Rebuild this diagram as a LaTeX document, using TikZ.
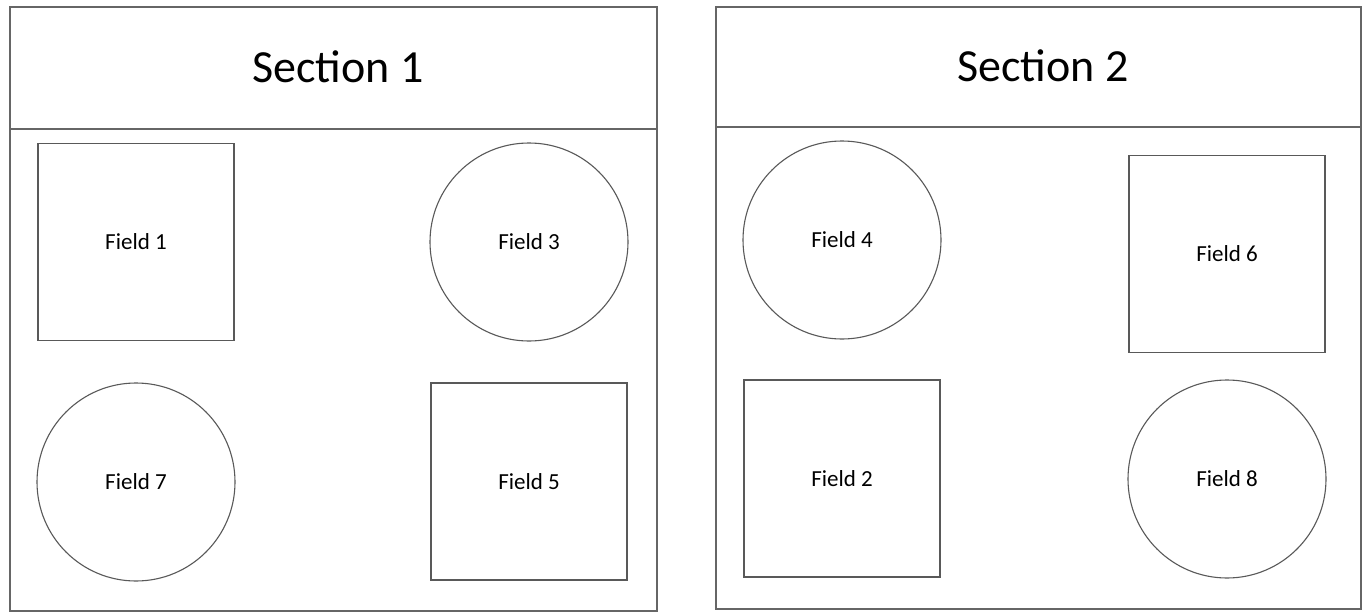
\documentclass[tikz,border=0pt]{standalone}
\usepackage{fontspec}
\setmainfont{Carlito}
\usetikzlibrary{calc}

\begin{document}
\begin{tikzpicture}[x=1pt,y=-1pt,
  sect/.style={draw=black!60, line width=1.2pt},
  fieldsq/.style={draw=black!65, line width=1.1pt, rectangle, minimum width=196pt, minimum height=197pt, inner sep=0pt, font=\fontsize{23}{27}\selectfont},
  fieldcirc/.style={draw=black!65, line width=1.1pt, circle, minimum size=198pt, inner sep=0pt, font=\fontsize{23}{27}\selectfont},
  title/.style={font=\fontsize{46}{54}\selectfont, inner sep=0pt}]
\useasboundingbox (0,0) rectangle (1366,613);
\fill[white] (0,0) rectangle (1366,613);
% section 1
\draw [sect] (10,7) rectangle (657,611);
\draw [sect] (10,129) -- (657,129);
\node [title] (sec1) at (338,67) {Section 1};
% section 2
\draw [sect] (716,7) rectangle (1361,609);
\draw [sect] (716,127) -- (1361,127);
\node [title] (sec2) at (1043,66) {Section 2};
% fields
\node [fieldsq]   (f1) at (136,242)   {Field 1};
\node [fieldcirc] (f3) at (529,242)   {Field 3};
\node [fieldcirc] (f7) at (136,482)   {Field 7};
\node [fieldsq]   (f5) at (529,481.5) {Field 5};
\node [fieldcirc] (f4) at (842,240)   {Field 4};
\node [fieldsq]   (f6) at (1227,254)  {Field 6};
\node [fieldsq]   (f2) at (842,478.5) {Field 2};
\node [fieldcirc] (f8) at (1227,479)  {Field 8};
\end{tikzpicture}
\end{document}
